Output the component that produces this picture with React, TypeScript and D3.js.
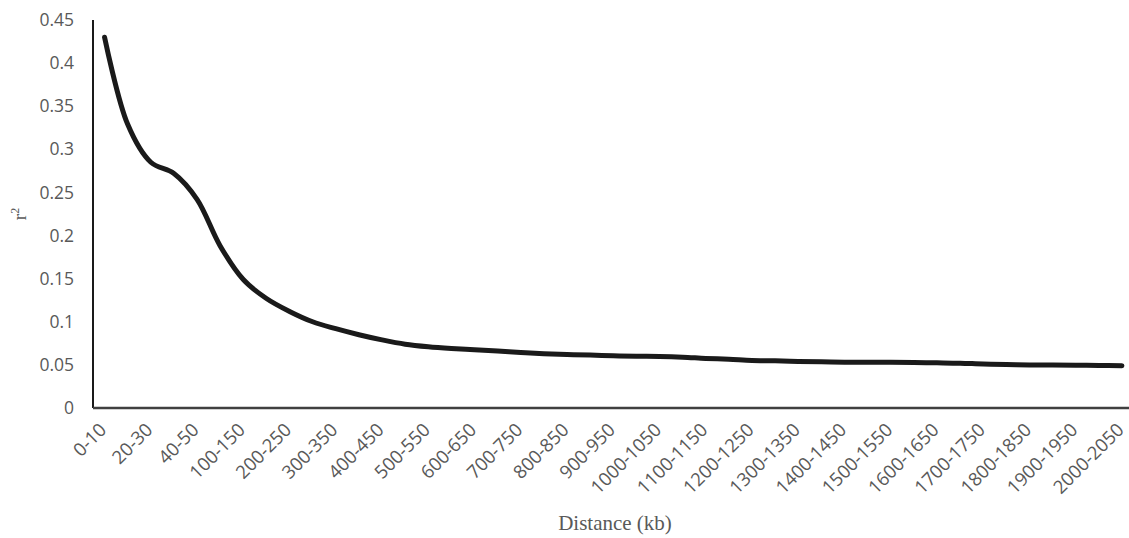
import { useMemo } from 'react'
import * as d3 from 'd3'

// Distance bins (kb)
const categories = [
  '0-10', '10-20', '20-30', '30-40', '40-50', '50-100',
  '100-150', '150-200', '200-250', '250-300', '300-350', '350-400',
  '400-450', '450-500', '500-550', '550-600', '600-650', '650-700',
  '700-750', '750-800', '800-850', '850-900', '900-950', '950-1000',
  '1000-1050', '1050-1100', '1100-1150', '1150-1200', '1200-1250', '1250-1300',
  '1300-1350', '1350-1400', '1400-1450', '1450-1500', '1500-1550', '1550-1600',
  '1600-1650', '1650-1700', '1700-1750', '1750-1800', '1800-1850', '1850-1900',
  '1900-1950', '1950-2000', '2000-2050'
]

// mean r^2 per bin
const r2Values = [
  0.430, 0.329, 0.285, 0.272, 0.242, 0.188,
  0.149, 0.127, 0.112, 0.100, 0.092, 0.085,
  0.079, 0.074, 0.071, 0.069, 0.0675, 0.066,
  0.0645, 0.063, 0.062, 0.0615, 0.0605, 0.060,
  0.0598, 0.059, 0.0575, 0.0565, 0.055, 0.0547,
  0.054, 0.0535, 0.053, 0.053, 0.053, 0.0527,
  0.0524, 0.052, 0.051, 0.0505, 0.050, 0.050,
  0.0497, 0.0494, 0.049
]

const yTicks = [0, 0.05, 0.1, 0.15, 0.2, 0.25, 0.3, 0.35, 0.4, 0.45]
const yTickLabels = ['0', '0.05', '0.1', '0.15', '0.2', '0.25', '0.3', '0.35', '0.4', '0.45']

const width = 1129
const height = 538
const margin = { top: 20, left: 93, bottom: 130 }
const plotRight = 1133.5

export default function App() {
  const xScale = useMemo(() => d3.scaleBand<string>()
    .domain(categories)
    .range([margin.left, plotRight])
    .padding(0), [])

  const yScale = useMemo(() => d3.scaleLinear()
    .domain([0, 0.45])
    .range([height - margin.bottom, margin.top]), [])

  const cx = (c: string) => (xScale(c) || 0) + xScale.bandwidth() / 2

  const line = d3.line<number>()
    .x((_, i) => cx(categories[i]))
    .y(d => yScale(d))
    .curve(d3.curveCatmullRom.alpha(0.5))

  const y0 = yScale(0)
  const labelFont = "'Open Sans', 'Liberation Sans', sans-serif"

  return (
    <svg width={width} height={height} style={{ position: 'absolute', left: 0, top: 0, background: '#fff' }}>
      {/* y tick labels */}
      {yTicks.map((t, i) => (
        <text key={t} x={74} y={yScale(t)} dy="0.35em" textAnchor="end"
          style={{ fill: '#595959', fontSize: '17.5px', fontFamily: labelFont }}>
          {yTickLabels[i]}
        </text>
      ))}

      {/* x tick labels, every other bin */}
      {categories.map((c, i) => i % 2 === 0 && (
        <text key={c} transform={`translate(${cx(c) + 3},${y0 + 23}) rotate(-45)`}
          textAnchor="end"
          style={{ fill: '#595959', fontSize: '18.5px', fontFamily: labelFont }}>
          {c}
        </text>
      ))}

      {/* axes */}
      <line x1={margin.left} x2={margin.left} y1={yScale(0.45)} y2={y0} stroke="#1a1a1a" strokeWidth={2} />
      <line x1={margin.left} x2={width} y1={y0} y2={y0} stroke="#404040" strokeWidth={2.5} />

      {/* LD decay line */}
      <path d={line(r2Values) || ''} fill="none" stroke="#1a1a1a" strokeWidth={5} strokeLinecap="round" strokeLinejoin="round" />

      {/* axis titles */}
      <text x={(margin.left + width) / 2 + 4} y={530} textAnchor="middle"
        style={{ fill: '#595959', fontSize: '21px', fontFamily: "'Liberation Serif', 'Times New Roman', serif" }}>
        Distance (kb)
      </text>
      <text transform={`translate(26,${(yScale(0.45) + y0) / 2}) rotate(-90)`} textAnchor="middle"
        style={{ fill: '#595959', fontSize: '19px', fontFamily: "'Liberation Serif', 'Times New Roman', serif" }}>
        r<tspan dy="-7" fontSize="12px">2</tspan>
      </text>
    </svg>
  )
}
